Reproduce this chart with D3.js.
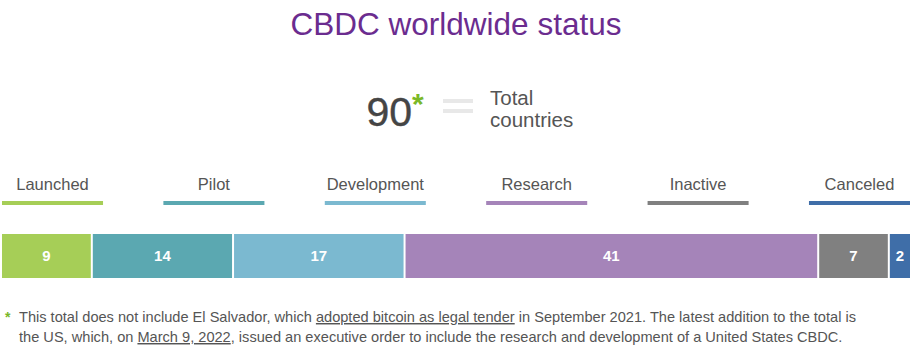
<!DOCTYPE html>
<html>
<head>
<meta charset="utf-8">
<script src="https://cdn.jsdelivr.net/npm/d3@7"></script>
<style>
  html, body { margin: 0; padding: 0; background: #fff; }
  svg { display: block; font-family: "Liberation Sans", Arial, Helvetica, sans-serif; }
</style>
</head>
<body>
<svg id="chart" width="912" height="363"></svg>
<script>
const categories = ["Launched", "Pilot", "Development", "Research", "Inactive", "Canceled"];
const values = [9, 14, 17, 41, 7, 2];
const colors = ["#a6ce57", "#5ba8b1", "#7bb9d0", "#a584b9", "#808080", "#3f6ea8"];
const total = 90;
const title = "CBDC worldwide status";
const totalLabel = ["Total", "countries"];

const svg = d3.select("#chart");

// Title
svg.append("text")
  .attr("x", 456).attr("y", 35)
  .attr("text-anchor", "middle")
  .attr("font-size", 31.5)
  .attr("fill", "#6b2c8f")
  .text(title);

// Total block
svg.append("text")
  .attr("x", 412).attr("y", 126)
  .attr("text-anchor", "end")
  .attr("font-size", 41)
  .attr("fill", "#454545")
  .attr("stroke", "#454545").attr("stroke-width", 0.4)
  .text(total);
svg.append("text")
  .attr("x", 412).attr("y", 114)
  .attr("font-size", 30).attr("font-weight", "bold")
  .attr("fill", "#7ab828")
  .text("*");
// equals sign
[99, 109].forEach(y => {
  svg.append("rect").attr("x", 443).attr("y", y).attr("width", 30).attr("height", 4).attr("fill", "#e8e8e8");
});
totalLabel.forEach((t, i) => {
  svg.append("text")
    .attr("x", 490).attr("y", 105 + i * 21.5)
    .attr("font-size", 20.5).attr("fill", "#555")
    .text(t);
});

// Legend
const band = d3.scaleBand().domain(categories).range([2, 910]).paddingInner(0.374).paddingOuter(0);
const leg = svg.append("g").selectAll("g").data(categories).join("g");
leg.append("rect")
  .attr("x", d => band(d)).attr("y", 201)
  .attr("width", band.bandwidth()).attr("height", 4)
  .attr("fill", (d, i) => colors[i]);
leg.append("text")
  .attr("x", d => band(d) + band.bandwidth() / 2).attr("y", 190)
  .attr("text-anchor", "middle")
  .attr("font-size", 16.5).attr("fill", "#555")
  .text(d => d);

// Stacked bar
const x = d3.scaleLinear().domain([0, d3.sum(values)]).range([2, 910]);
let acc = 0;
const segs = values.map((v, i) => { const s = { cat: categories[i], v, start: acc, end: acc + v, color: colors[i] }; acc += v; return s; });
const bar = svg.append("g").selectAll("g").data(segs).join("g");
bar.append("rect")
  .attr("x", d => x(d.start))
  .attr("y", 234)
  .attr("width", (d, i) => x(d.end) - x(d.start) - (i < segs.length - 1 ? 2 : 0))
  .attr("height", 44)
  .attr("fill", d => d.color);
bar.append("text")
  .attr("x", (d, i) => (x(d.start) + x(d.end) - (i < segs.length - 1 ? 2 : 0)) / 2)
  .attr("y", 261)
  .attr("text-anchor", "middle")
  .attr("font-size", 15).attr("font-weight", "bold")
  .attr("fill", "#fff")
  .text(d => d.v);

// Footnote
svg.append("text").attr("x", 5).attr("y", 322).attr("font-size", 14).attr("font-weight", "bold").attr("fill", "#7ab828").text("*");
const line1 = [
  ["This total does not include El Salvador, which ", false],
  ["adopted bitcoin as legal tender", true],
  [" in September 2021. The latest addition to the total is", false]
];
const line2 = [
  ["the US, which, on ", false],
  ["March 9, 2022", true],
  [", issued an executive order to include the research and development of a United States CBDC.", false]
];
[[line1, 322], [line2, 342]].forEach(([parts, y]) => {
  svg.append("text").attr("x", 19).attr("y", y)
    .attr("font-size", 14.6).attr("fill", "#555")
    .selectAll("tspan").data(parts).join("tspan")
    .attr("text-decoration", d => d[1] ? "underline" : null)
    .text(d => d[0]);
});
</script>
</body>
</html>
